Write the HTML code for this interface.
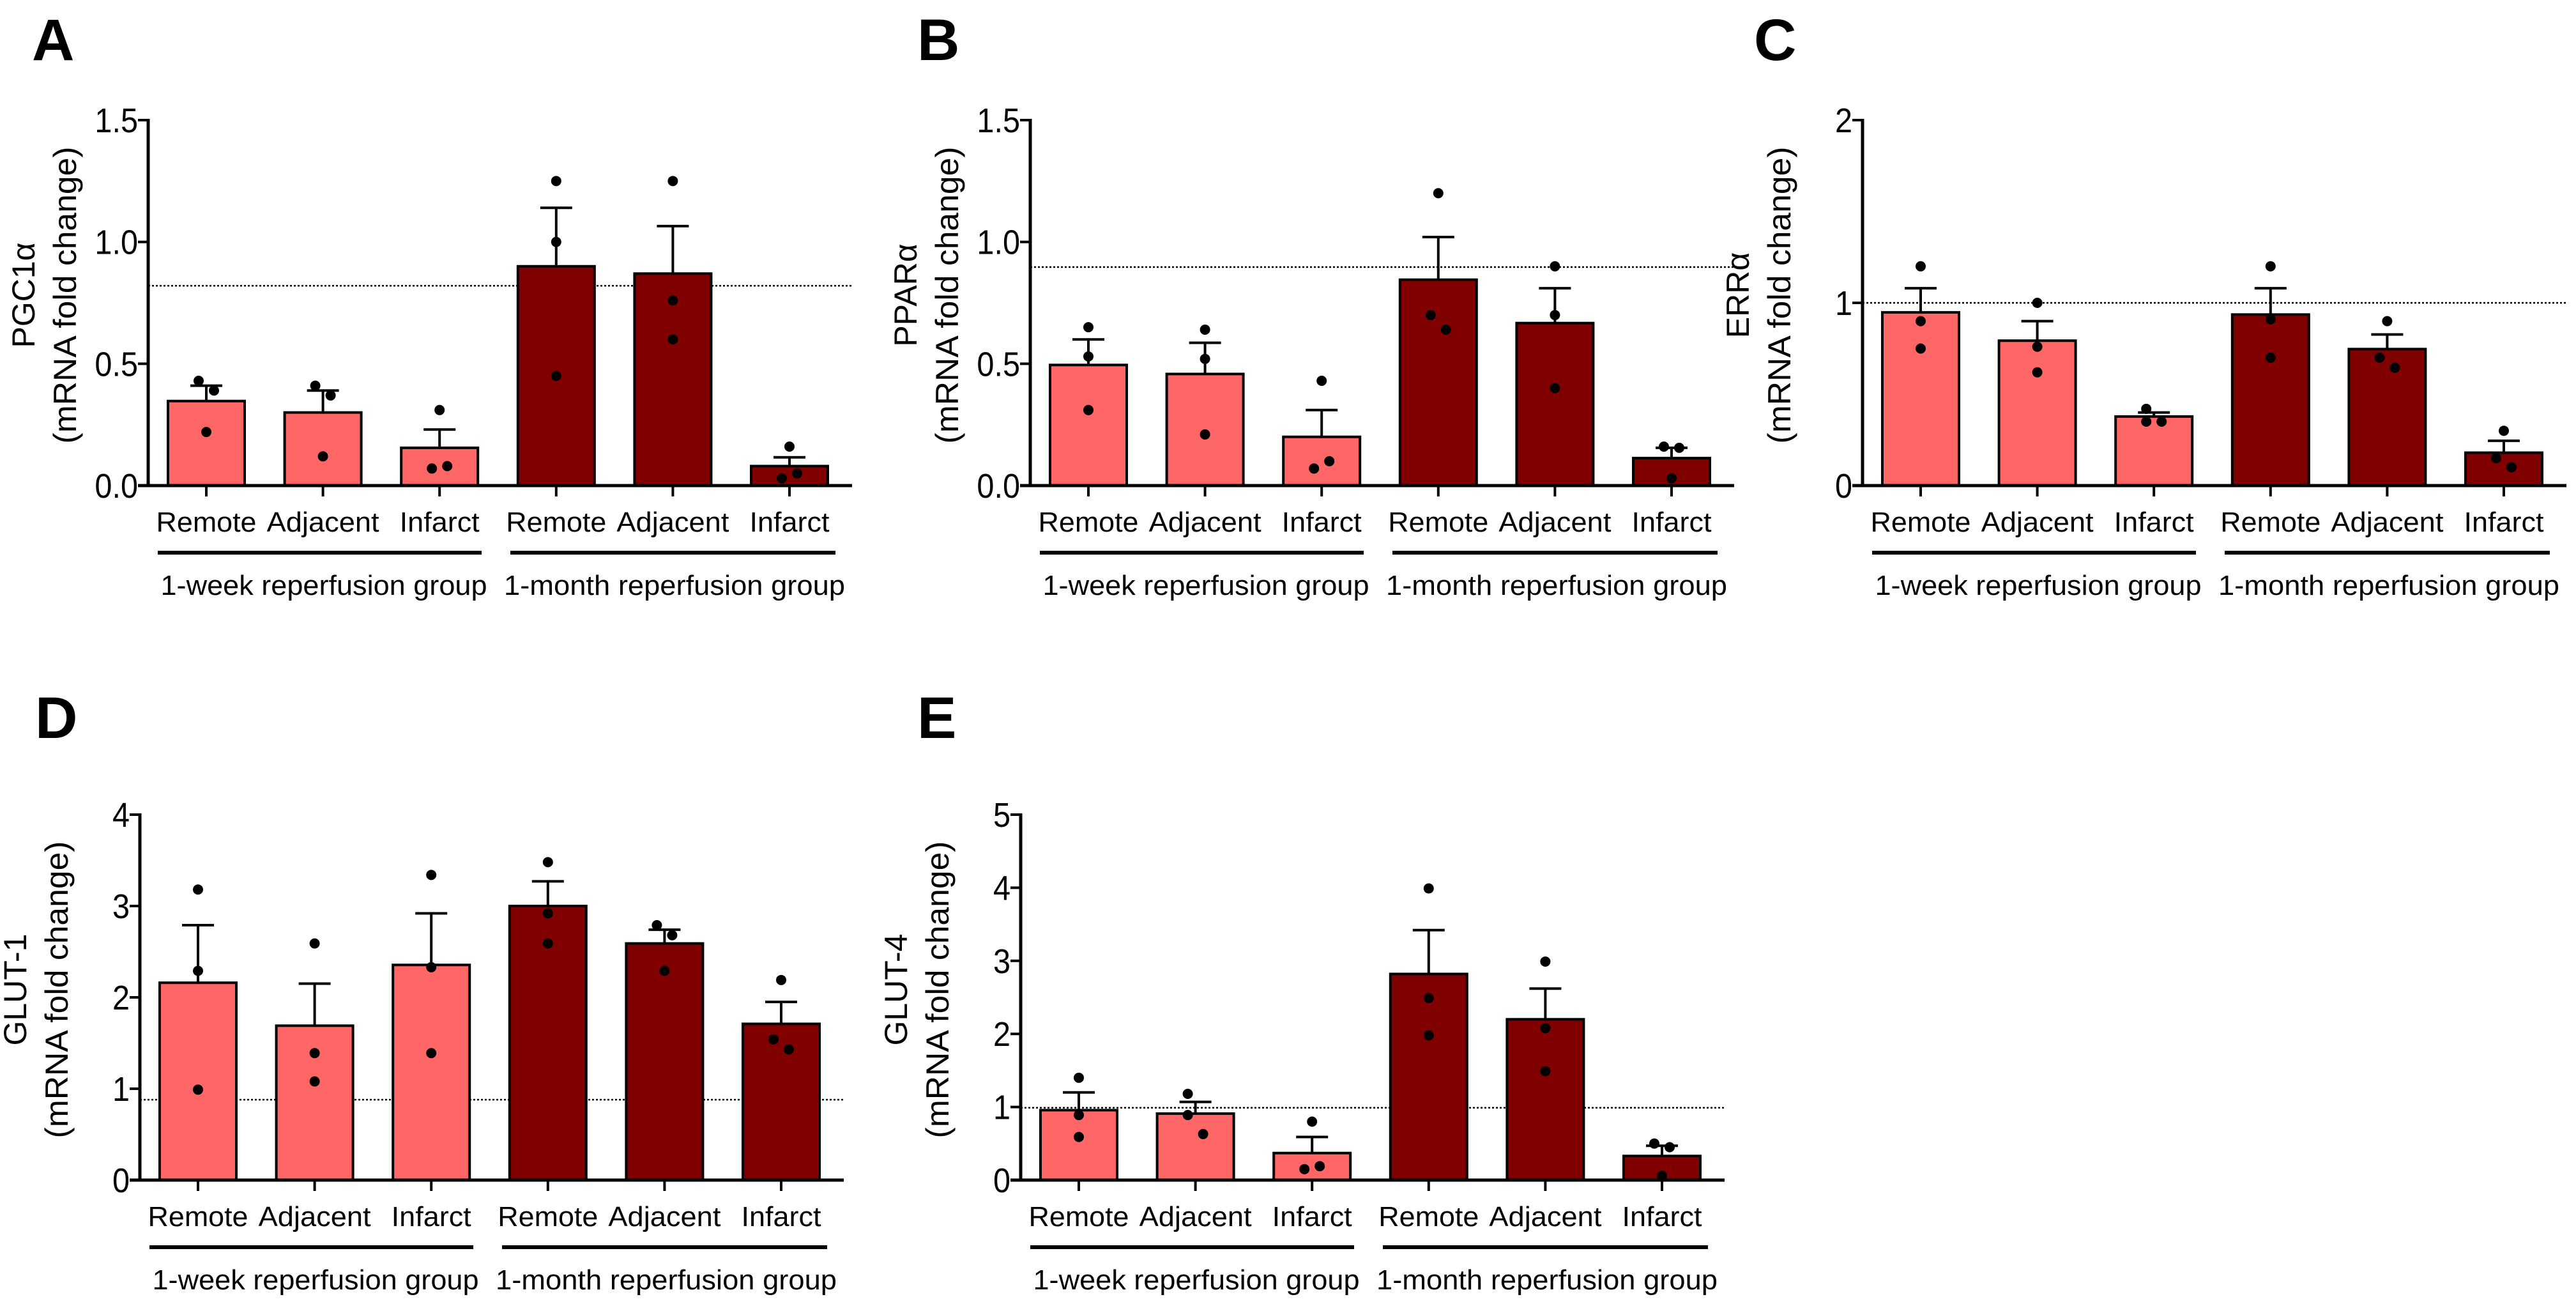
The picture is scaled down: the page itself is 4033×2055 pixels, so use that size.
<!DOCTYPE html>
<html><head><meta charset="utf-8">
<style>
html,body{margin:0;padding:0;background:#fff;}
svg{display:block;}
text{font-family:"Liberation Sans",Arial,sans-serif;fill:#000;}
</style></head>
<body>
<svg id="fig" width="4033" height="2055" viewBox="0 0 4033 2055" xmlns="http://www.w3.org/2000/svg"></svg>
<script>
// ---------- DATA ----------
const categories = ["Remote","Adjacent","Infarct","Remote","Adjacent","Infarct"];
const groupLabels = ["1-week reperfusion group","1-month reperfusion group"];

const pgcMeans = [0.347,0.30,0.155,0.90,0.87,0.08];
const pgcErr   = [0.41,0.39,0.23,1.14,1.065,0.116];
const pgcDots  = [[0.43,0.39,0.22],[0.41,0.37,0.12],[0.31,0.07,0.08],[1.25,1.0,0.45],[1.25,0.76,0.6],[0.16,0.03,0.05]];
const pgcRef = 0.82;
const pgcTicks = ["0.0","0.5","1.0","1.5"];

const pparMeans = [0.495,0.458,0.20,0.845,0.667,0.113];
const pparErr   = [0.60,0.586,0.31,1.02,0.81,0.155];
const pparDots  = [[0.65,0.53,0.31],[0.64,0.52,0.21],[0.43,0.07,0.10],[1.2,0.70,0.64],[0.9,0.70,0.40],[0.16,0.155,0.03]];
const pparRef = 0.897;
const pparTicks = ["0.0","0.5","1.0","1.5"];

const errMeans = [0.948,0.793,0.378,0.936,0.747,0.18];
const errErr   = [1.08,0.90,0.40,1.08,0.827,0.245];
const errDots  = [[1.2,0.9,0.75],[1.0,0.76,0.62],[0.42,0.35,0.35],[1.2,0.91,0.70],[0.9,0.70,0.645],[0.30,0.15,0.10]];
const errRef = 1.0;
const errTicks = ["0","1","2"];

const glut1Means = [2.16,1.69,2.355,3.0,2.59,1.71];
const glut1Err   = [2.79,2.15,2.92,3.27,2.74,1.95];
const glut1Dots  = [[3.18,2.29,0.99],[2.59,1.39,1.08],[3.34,2.33,1.39],[3.48,2.92,2.59],[2.79,2.68,2.29],[2.19,1.54,1.43]];
const glut1Ref = 0.88;
const glut1Ticks = ["0","1","2","3","4"];

const glut4Means = [0.957,0.91,0.37,2.82,2.20,0.33];
const glut4Err   = [1.20,1.07,0.59,3.42,2.62,0.47];
const glut4Dots  = [[1.40,0.89,0.59],[1.18,0.89,0.63],[0.80,0.15,0.19],[3.99,2.49,1.98],[2.99,2.08,1.49],[0.50,0.45,0.06]];
const glut4Ref = 0.99;
const glut4Ticks = ["0","1","2","3","4","5"];

// ---------- DRAW ----------
const NS = "http://www.w3.org/2000/svg";
const svg = document.getElementById("fig");
function mk(tag, attrs, parent){
  const e = document.createElementNS(NS, tag);
  for (const k in attrs) e.setAttribute(k, attrs[k]);
  (parent||svg).appendChild(e);
  return e;
}
const LIGHT = "#FF6666", DARK = "#800000";

function drawPanel(p){
  const g = mk("g", {});
  
  
  const ax = p.ax, y0 = p.y0, H = 572;
  const maxV = parseFloat(p.ticks[p.ticks.length-1]);
  const yS = v => y0 - v / maxV * H;
  const xS = i => ax + 91 + 182.6 * i;
  const axisEnd = ax + 1102;

  // letter
  const L = mk("text", {x:p.lx, y:p.ly, "font-size":92, "font-weight":"bold"}, g);
  L.textContent = p.letter;
  
  

  // reference dotted line
  const ref = mk("line", {x1:ax, x2:axisEnd, y1:yS(p.ref), y2:yS(p.ref), stroke:"#000", "stroke-width":2.5, "stroke-dasharray":"3,3"}, g);
  
  

  // bars
  p.means.forEach((m, i) => {
    const cx = xS(i);
    const bar = mk("rect", {x:cx-60, y:yS(m), width:120, height:y0-yS(m), fill: i<3?LIGHT:DARK, stroke:"#000", "stroke-width":4}, g);
    
    
    const ey = yS(p.err[i]);
    const eb = mk("path", {d:`M${cx},${yS(m)}V${ey}M${cx-25},${ey}H${cx+25}`, stroke:"#000", "stroke-width":4, fill:"none"}, g);
    
    
    const ds = p.dots[i];
    ds.forEach((d, j) => {
      let dx = 0;
      for (let k = 0; k < ds.length; k++) {
        if (k !== j && Math.abs(ds[k]-d) < maxV*0.06) { dx = k < j ? 12 : -12; }
      }
      const c = mk("circle", {cx:cx+dx, cy:yS(d), r:8, fill:"#000"}, g);
      
      
    });
  });

  // axes
  const ya = mk("line", {x1:ax, x2:ax, y1:yS(maxV)-2, y2:y0+2, stroke:"#000", "stroke-width":5}, g);
  
  
  const xa = mk("line", {x1:ax-16, x2:axisEnd, y1:y0, y2:y0, stroke:"#000", "stroke-width":5}, g);
  
  

  p.ticks.forEach(t => {
    const v = parseFloat(t), y = yS(v);
    const tk = mk("line", {x1:ax-16, x2:ax, y1:y, y2:y, stroke:"#000", "stroke-width":4}, g);
    
    
    const tl = mk("text", {x:ax-16, y:y+19, "font-size":54, "text-anchor":"end", transform:`translate(${ax-16},0) scale(0.9,1) translate(${-(ax-16)},0)`}, g);
    tl.textContent = t;
    
    
  });

  const widths = {Remote:157, Adjacent:176, Infarct:125};
  categories.forEach((c, i) => {
    const cx = xS(i);
    const tk = mk("line", {x1:cx, x2:cx, y1:y0, y2:y0+17, stroke:"#000", "stroke-width":4}, g);
    
    
    const tl = mk("text", {x:cx, y:y0+72, "font-size":44, "text-anchor":"middle", textLength:widths[c], lengthAdjust:"spacingAndGlyphs"}, g);
    tl.textContent = c;
    
    
  });

  groupLabels.forEach((gl, k) => {
    const x1 = ax + 15 + 552*k, x2 = ax + 522 + 554*k;
    const ln = mk("line", {x1:x1, x2:x2, y1:y0+105, y2:y0+105, stroke:"#000", "stroke-width":6}, g);
    
    
    const t = mk("text", {x:ax + 275 + 549*k, y:y0+171, "font-size":44, "text-anchor":"middle", textLength:k?534:511, lengthAdjust:"spacingAndGlyphs"}, g);
    t.textContent = gl;
    
    
  });

  // y title
  const cy = y0 - 298;
  const t1 = mk("text", {x:0, y:0, "font-size":50, "text-anchor":"middle", transform:`translate(${ax-178},${cy}) rotate(-90)`}, g);
  t1.textContent = p.title;
  
  
  const t2 = mk("text", {x:0, y:0, "font-size":50, "text-anchor":"middle", textLength:465, lengthAdjust:"spacingAndGlyphs", transform:`translate(${ax-113},${cy}) rotate(-90)`}, g);
  t2.textContent = "(mRNA fold change)";
  
  
}

drawPanel({letter:"A", lx:50, ly:94, ax:232, y0:760, title:"PGC1α", means:pgcMeans, err:pgcErr, dots:pgcDots, ref:pgcRef, ticks:pgcTicks});
drawPanel({letter:"B", lx:1436, ly:94, ax:1613, y0:760, title:"PPARα", means:pparMeans, err:pparErr, dots:pparDots, ref:pparRef, ticks:pparTicks});
drawPanel({letter:"C", lx:2746, ly:94, ax:2916, y0:760, title:"ERRα", means:errMeans, err:errErr, dots:errDots, ref:errRef, ticks:errTicks});
drawPanel({letter:"D", lx:55, ly:1155, ax:219, y0:1847, title:"GLUT-1", means:glut1Means, err:glut1Err, dots:glut1Dots, ref:glut1Ref, ticks:glut1Ticks});
drawPanel({letter:"E", lx:1436, ly:1155, ax:1598, y0:1847, title:"GLUT-4", means:glut4Means, err:glut4Err, dots:glut4Dots, ref:glut4Ref, ticks:glut4Ticks});
</script>
</body></html>
